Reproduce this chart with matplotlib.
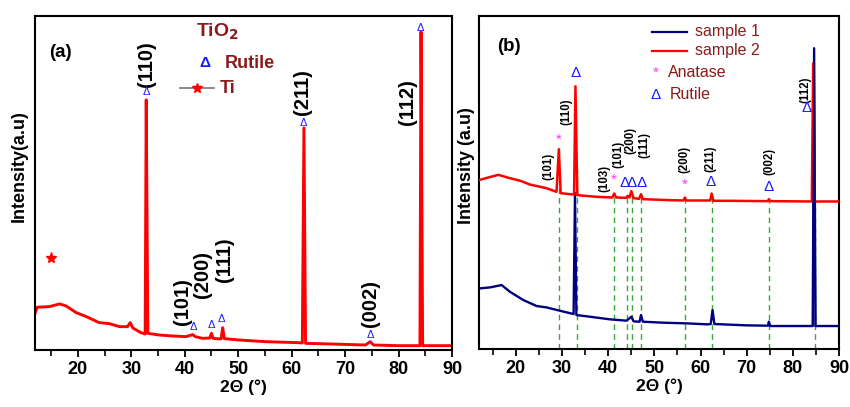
import numpy as np
import matplotlib
matplotlib.use("Agg")
import matplotlib.pyplot as plt
from matplotlib.ticker import MultipleLocator

plt.rcParams['font.family'] = ['Liberation Sans', 'DejaVu Sans']

# ---- panel (a): TiO2 film ----
tt_a = [12.0, 12.4, 14.7, 16.6, 17.8, 19.7, 21.6, 24.0, 25.9, 27.8, 29.3, 29.8, 30.3,
        31.8, 32.6, 32.8, 33.1, 35.2, 37.7, 40.2, 41.5, 42.0, 43.3, 44.7, 45.0, 45.3,
        46.8, 47.1, 47.4, 50.2, 55.1, 61.3, 62.0, 62.3, 62.6, 67.6, 73.8, 74.7, 75.3,
        80.0, 84.0, 84.2, 84.5, 90.0]
int_a = [11.0, 12.8, 13.0, 13.8, 13.2, 11.2, 10.0, 8.2, 7.9, 7.0, 7.0, 8.2, 6.6,
         5.2, 4.8, 74.9, 5.0, 4.5, 4.2, 4.0, 4.6, 4.0, 3.5, 3.6, 5.0, 3.5,
         3.3, 6.7, 3.4, 3.0, 2.5, 2.2, 2.1, 66.5, 2.0, 1.8, 1.5, 2.5, 1.5,
         1.3, 1.3, 95.3, 1.3, 1.3]

# rutile reflections in (a): label, 2theta, label base, triangle height
hkl_a = ['(110)', '(211)', '(112)', '(101)', '(200)', '(111)', '(002)']
hkl_a_x = [32.8, 62.0, 81.7, 39.6, 43.4, 47.5, 74.7]
hkl_a_y = [78.7, 70.4, 67.4, 7.5, 15.6, 20.4, 6.9]
tri_a_x = [32.8, 62.2, 84.0, 41.6, 44.9, 46.9, 74.7]
tri_a_y = [77.3, 68.1, 96.5, 6.8, 7.5, 9.3, 4.5]
ti_star = (14.9, 27.5)

# ---- panel (b): two samples ----
tt_s2 = [12.2, 14.0, 16.2, 18.7, 21.0, 23.0, 26.6, 28.8, 29.3, 29.7, 31.7, 32.6, 32.9,
         33.3, 37.5, 40.9, 41.3, 41.7, 43.9, 44.2, 44.6, 45.0, 45.5, 46.7, 47.1, 47.5,
         53.3, 56.3, 56.6, 56.9, 59.1, 62.1, 62.4, 62.8, 66.3, 74.6, 74.8, 75.1, 84.1,
         84.4, 84.7, 90.0]
int_s2 = [50.8, 51.5, 52.3, 51.3, 50.5, 49.4, 48.3, 47.2, 60.0, 46.8, 46.5, 46.4, 78.9,
          46.2, 45.7, 45.5, 46.7, 45.5, 45.4, 46.0, 45.5, 47.4, 45.3, 45.1, 46.5, 45.0,
          44.7, 44.6, 45.5, 44.6, 44.6, 44.6, 46.7, 44.5, 44.5, 44.4, 45.0, 44.4, 44.3,
          85.8, 44.3, 44.3]
tt_s1 = [12.2, 14.4, 16.9, 18.7, 21.6, 24.5, 26.6, 29.5, 32.5, 32.8, 33.1, 36.0, 40.4,
         44.0, 45.0, 45.5, 46.8, 47.1, 47.5, 51.9, 56.9, 61.6, 62.2, 62.6, 63.0, 70.0,
         74.6, 74.8, 75.1, 84.3, 84.6, 84.9, 90.0]
int_s1 = [18.2, 18.5, 19.2, 17.2, 14.7, 12.9, 12.5, 11.5, 10.5, 46.8, 10.2, 9.7, 8.9,
          8.5, 9.7, 8.3, 8.2, 10.2, 8.2, 7.9, 7.7, 7.4, 7.5, 11.7, 7.5, 7.1,
          7.0, 8.2, 6.9, 6.9, 90.3, 6.9, 6.9]

ref_lines_b = [29.3, 33.2, 41.3, 44.1, 45.2, 47.1, 56.7, 62.5, 74.9, 84.7]

hkl_b = ['(101)', '(110)', '(103)', '(101)', '(200)', '(111)', '(200)', '(211)', '(002)', '(112)']
hkl_b_x = [27.0, 31.0, 39.1, 42.3, 44.8, 47.8, 56.6, 62.2, 75.0, 82.6]
hkl_b_y = [50.8, 67.3, 47.2, 54.5, 58.5, 57.5, 52.9, 53.2, 52.3, 73.9]
anatase_x = [29.3, 41.2, 56.6]
anatase_y = [62.8, 50.8, 49.4]
rutile_x = [32.9, 43.5, 45.0, 47.2, 62.2, 74.8, 82.9]
rutile_y = [82.8, 49.7, 49.7, 49.7, 50.0, 48.5, 72.3]

red = '#ff0000'
navy = '#000080'
dark_red = '#8b1a1a'
blue_t = '#1a1aff'
magenta = '#ff33ff'

fig = plt.figure(figsize=(8.5, 4.07), dpi=100)
ax1 = fig.add_axes([0.0412, 0.140, 0.4906, 0.8207])
ax2 = fig.add_axes([0.5635, 0.1425, 0.4236, 0.8182])

for ax in (ax1, ax2):
    ax.set_xlim(12, 90)
    ax.set_ylim(0, 100)
    ax.set_yticks([])
    ax.xaxis.set_major_locator(MultipleLocator(10))
    ax.xaxis.set_minor_locator(MultipleLocator(5))
    ax.tick_params(axis='x', which='major', direction='out', length=5, width=1.3,
                   labelsize=13, pad=3)
    ax.tick_params(axis='x', which='minor', direction='out', length=4, width=1.2)
    for sp in ax.spines.values():
        sp.set_linewidth(1.5)
    ax.set_xlabel('2\u0398 (\u00b0)', fontsize=12.5, fontweight='bold', labelpad=1)
    ax.set_xticks([20, 30, 40, 50, 60, 70, 80, 90])
    ax.set_xticklabels(['20', '30', '40', '50', '60', '70', '80', '90'], fontweight='bold')

# panel (a)
ax1.plot(tt_a, int_a, color=red, lw=2.1)
for lab, x, y in zip(hkl_a, hkl_a_x, hkl_a_y):
    ax1.text(x, y, lab, rotation=90, ha='center', va='bottom', fontsize=14.5,
             fontweight='bold')
for x, y in zip(tri_a_x, tri_a_y):
    ax1.text(x, y, '\u0394', color=blue_t, ha='center', va='center', fontsize=8)
ax1.plot(*ti_star, marker='*', color=red, ms=8, ls='none')
ax1.text(14.7, 89.2, '(a)', fontsize=13.5, fontweight='bold', va='center')
ax1.text(42.1, 95.2, 'TiO$_\\mathbf{2}$', color=dark_red, fontsize=14, fontweight='bold',
         va='center')
ax1.text(43.8, 85.9, '\u0394', color=blue_t, fontsize=11, fontweight='bold',
         ha='center', va='center')
ax1.text(47.5, 85.9, 'Rutile', color=dark_red, fontsize=13, fontweight='bold',
         va='center')
ax1.plot([39.2, 45.5], [78.4, 78.4], color='#777777', lw=1.2)
ax1.plot(42.3, 78.4, marker='*', color=red, ms=7)
ax1.text(46.5, 78.4, 'Ti', color=dark_red, fontsize=13, fontweight='bold', va='center')
ax1.set_ylabel('Intensity(a.u)', fontsize=13, fontweight='bold')
ax1.yaxis.set_label_coords(-0.018, 0.55)

# panel (b)
tops = np.interp(ref_lines_b, tt_s2, int_s2)
ax2.vlines(ref_lines_b, 0, tops, colors='#33aa33', linestyles=(0, (4, 3)), lw=1.0,
           zorder=1)
ax2.plot(tt_s1, int_s1, color=navy, lw=1.7, zorder=2)
ax2.plot(tt_s2, int_s2, color=red, lw=1.8, zorder=3)
ax2.plot(tt_s1[28:32], int_s1[28:32], color=navy, lw=1.2, zorder=4)
for lab, x, y in zip(hkl_b, hkl_b_x, hkl_b_y):
    ax2.text(x, y, lab, rotation=90, ha='center', va='bottom', fontsize=8.3,
             fontweight='bold')
for x, y in zip(anatase_x, anatase_y):
    ax2.text(x, y, '*', color=magenta, ha='center', va='center', fontsize=11)
for x, y in zip(rutile_x, rutile_y):
    ax2.text(x, y, '\u0394', color=blue_t, ha='center', va='center', fontsize=11)
ax2.text(15.9, 90.7, '(b)', fontsize=13.5, fontweight='bold', va='center')

ax2.plot([49.4, 57.0], [95.2, 95.2], color=navy, lw=1.6)
ax2.plot([49.4, 57.0], [89.5, 89.5], color=red, lw=1.6)
ax2.text(58.8, 95.2, 'sample 1', color=dark_red, fontsize=11.5, va='center')
ax2.text(58.8, 89.5, 'sample 2', color=dark_red, fontsize=11.5, va='center')
ax2.text(50.3, 82.9, '*', color=magenta, fontsize=11, ha='center', va='center')
ax2.text(52.9, 82.9, 'Anatase', color=dark_red, fontsize=11.5, va='center')
ax2.text(50.3, 76.3, '\u0394', color=blue_t, fontsize=11, ha='center', va='center')
ax2.text(53.3, 76.3, 'Rutile', color=dark_red, fontsize=11.5, va='center')
ax2.set_ylabel('Intensity (a.u)', fontsize=13, fontweight='bold')
ax2.yaxis.set_label_coords(-0.012, 0.55)

fig.savefig('out.png', dpi=100)
